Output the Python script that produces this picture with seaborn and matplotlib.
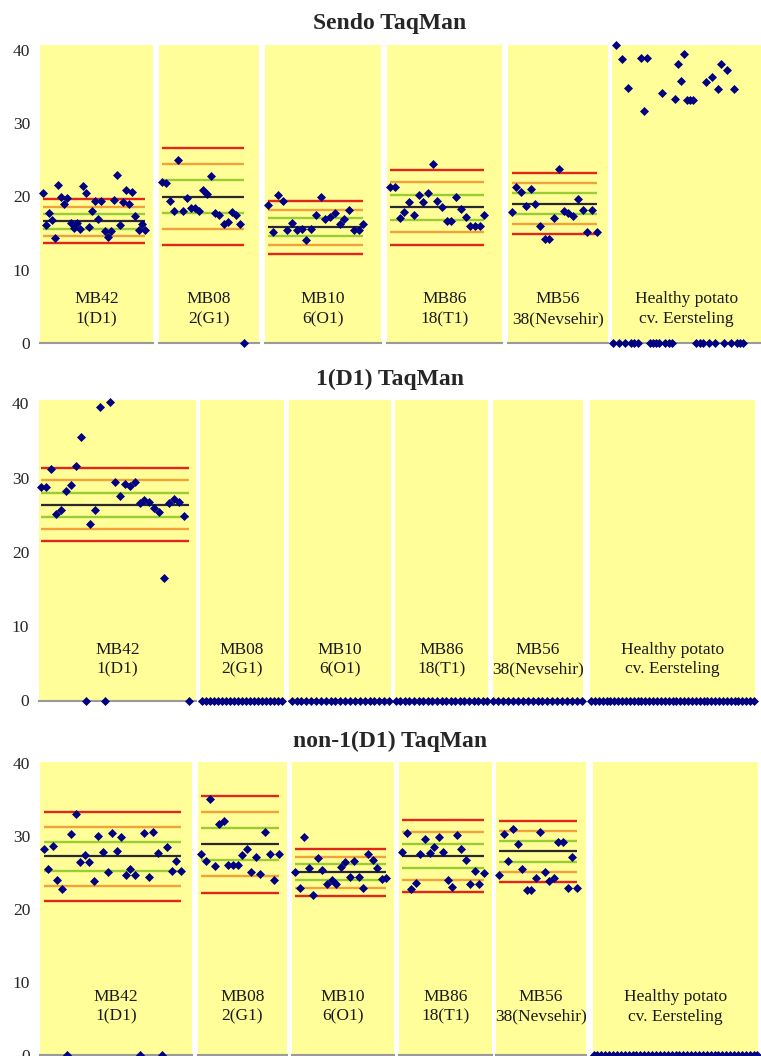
import numpy as np
import pandas as pd
import matplotlib
matplotlib.use('Agg')
import matplotlib.pyplot as plt
import matplotlib.transforms as mtransforms
import seaborn as sns

sns.set_style("white")
plt.rcParams['font.family'] = ['Liberation Serif', 'DejaVu Serif']

# ---- data (Ct values) ----
group_labels = ['MB42\n1(D1)', 'MB08\n2(G1)', 'MB10\n6(O1)', 'MB86\n18(T1)',
                'MB56\n38(Nevsehir)', 'Healthy potato\ncv. Eersteling']
panel_titles = ['Sendo TaqMan', '1(D1) TaqMan', 'non-1(D1) TaqMan']
y_ticks = [0, 10, 20, 30, 40]

# Sendo TaqMan
sendo_mb42 = [20.46, 16.05, 17.69, 16.73, 14.37, 21.51, 19.96, 18.92, 19.83, 16.33,
              15.64, 16.33, 15.51, 21.42, 20.51, 15.78, 18.01, 19.42, 16.96, 19.42,
              15.33, 14.46, 15.33, 19.55, 22.97, 16.05, 19.19, 20.92, 18.96, 20.55,
              17.28, 15.42, 16.28, 15.42]
sendo_mb08 = [21.96, 21.78, 19.37, 17.96, 24.97, 18.01, 19.74, 18.46, 18.46, 18.01,
              20.83, 20.28, 22.83, 17.69, 17.42, 16.19, 16.51, 17.87, 17.42, 16.19, 0]
sendo_mb10 = [18.83, 15.14, 20.19, 19.42, 15.37, 16.33, 15.37, 15.60, 14.05, 15.55,
              17.51, 19.87, 16.96, 17.14, 17.74, 16.28, 16.96, 18.19, 15.37, 15.37, 16.28]
sendo_mb86 = [21.24, 21.24, 17.05, 17.83, 19.28, 17.42, 20.24, 19.19, 20.42, 24.42,
              19.37, 18.55, 16.64, 16.64, 19.92, 18.28, 17.19, 16.01, 16.01, 16.01, 17.51]
sendo_mb56 = [17.83, 21.33, 20.55, 18.69, 21.01, 18.92, 15.92, 14.14, 14.14, 17.05,
              23.69, 18.05, 17.78, 17.28, 19.69, 18.19, 15.10, 18.19, 15.10]
sendo_healthy = [0, 40.65, 0, 38.7, 0, 34.74, 0, 0, 0, 38.83,
                 31.7, 38.83, 0, 0, 0, 0, 34.1, 0, 0, 0,
                 33.3, 38.0, 35.7, 39.38, 33.2, 33.2, 33.2, 0, 0, 0,
                 35.56, 0, 36.3, 0, 34.7, 38.1, 0, 37.3, 0, 34.65,
                 0, 0, 0]
sendo_centre = [16.6, 19.98, 15.78, 18.51, 19.03]
sendo_sd = [1.0, 2.22, 1.21, 1.70, 1.37]

# 1(D1) TaqMan
d1_mb42 = [28.69, 28.69, 31.16, 25.14, 25.60, 28.24, 29.05, 31.52, 35.50, 0,
           23.71, 25.64, 39.46, 0, 40.17, 29.36, 27.48, 29.18, 28.83, 29.41,
           26.54, 27.03, 26.67, 25.95, 25.41, 16.44, 26.54, 27.08, 26.72, 24.79, 0]
d1_mb08 = [0, 0, 0, 0, 0, 0, 0, 0, 0, 0, 0, 0, 0, 0, 0, 0, 0, 0, 0, 0, 0]
d1_mb10 = [0, 0, 0, 0, 0, 0, 0, 0, 0, 0, 0, 0, 0, 0, 0, 0, 0, 0, 0, 0, 0]
d1_mb86 = [0, 0, 0, 0, 0, 0, 0, 0, 0, 0, 0, 0, 0, 0, 0, 0, 0, 0, 0, 0, 0]
d1_mb56 = [0, 0, 0, 0, 0, 0, 0, 0, 0, 0, 0, 0, 0, 0, 0, 0, 0, 0, 0]
d1_healthy = [0, 0, 0, 0, 0, 0, 0, 0, 0, 0, 0, 0, 0, 0, 0, 0, 0, 0, 0, 0, 0, 0,
              0, 0, 0, 0, 0, 0, 0, 0, 0, 0, 0, 0, 0, 0, 0, 0, 0, 0, 0, 0, 0]
d1_centre = [26.33]
d1_sd = [1.64]

# non-1(D1) TaqMan
non_mb42 = [28.22, 25.53, 28.58, 24.02, 22.79, 0, 30.32, 33.06, 26.48, 27.44,
            26.48, 23.84, 30.00, 27.85, 25.02, 30.41, 27.95, 29.90, 24.66, 25.53,
            24.66, 0, 30.45, 24.43, 30.50, 27.63, 0, 28.49, 25.16, 26.53, 25.16]
non_mb08 = [27.53, 26.58, 35.07, 25.89, 31.69, 32.01, 25.98, 26.03, 25.98, 27.35,
            28.26, 25.07, 27.12, 24.75, 30.50, 27.53, 24.02, 27.49]
non_mb10 = [25.02, 22.83, 29.90, 25.57, 21.92, 26.99, 25.39, 23.38, 23.97, 23.38,
            25.75, 26.39, 24.34, 26.58, 24.34, 22.83, 27.49, 26.71, 25.62, 24.06, 24.29]
non_mb86 = [27.76, 30.45, 22.79, 23.60, 27.53, 29.63, 27.72, 28.45, 29.82, 27.85,
            23.97, 23.01, 30.09, 28.26, 26.71, 23.38, 25.25, 23.38, 24.89]
non_mb56 = [24.70, 30.23, 26.53, 31.00, 28.86, 25.48, 22.60, 22.60, 24.29, 30.50,
            25.07, 23.88, 24.29, 29.18, 29.18, 22.92, 27.08, 22.92]
non_healthy = [0, 0, 0, 0, 0, 0, 0, 0, 0, 0, 0, 0, 0, 0, 0, 0, 0, 0, 0, 0, 0, 0,
               0, 0, 0, 0, 0, 0, 0, 0, 0, 0, 0, 0, 0, 0, 0, 0, 0, 0, 0, 0, 0]
non_centre = [27.20, 28.89, 25.02, 27.26, 27.88]
non_sd = [2.02, 2.215, 1.08, 1.66, 1.39]

panel_values = [
    [sendo_mb42, sendo_mb08, sendo_mb10, sendo_mb86, sendo_mb56, sendo_healthy],
    [d1_mb42, d1_mb08, d1_mb10, d1_mb86, d1_mb56, d1_healthy],
    [non_mb42, non_mb08, non_mb10, non_mb86, non_mb56, non_healthy],
]
panel_centre = [sendo_centre, d1_centre, non_centre]
panel_sd = [sendo_sd, d1_sd, non_sd]

# ---- layout in pixels ----
W, H = 761, 1056
# (pixel of y=0, pixels per Ct unit, top of block, title baseline, label y)
panel_geom = [(343, 7.33, 45, 28.5, 4.6),
              (700.5, 7.43, 400, 385, 5.5),
              (1055, 7.30, 762, 746.5, 6.6)]
# per block: left, right, first point x, last point x
block_geom = [
    [(40, 153, 42.7, 144.7), (159, 259, 162, 244), (265, 381, 268.3, 363.3),
     (387, 502, 390.3, 484.3), (508, 608, 511.7, 596.7), (612, 761, 612.7, 743)],
    [(39, 196, 41.3, 188.7), (200, 284, 201.7, 281.7), (289, 391, 291.7, 389),
     (395, 488, 395.7, 487.3), (493, 583, 493.3, 581.7), (590, 755, 591, 754)],
    [(40, 192, 43.7, 180.7), (198, 287, 201, 278.7), (292, 394, 295, 386.3),
     (399, 492, 402.3, 484), (496, 586, 499.3, 576.7), (593, 758, 593.5, 757.5)],
]

yellow = '#FFFE99'
navy = '#000080'
band_colors = [('#E3261B', 3), ('#F2A23A', 2), ('#9ACD32', 1)]

fig = plt.figure(figsize=(W / 100, H / 100), dpi=100)

for p in range(3):
    y0, ppu, top, title_y, label_y = panel_geom[p]
    fig.text(390 / W, 1 - title_y / H, panel_titles[p], ha='center', va='baseline',
             fontsize=17, fontweight='bold')
    for g in range(6):
        L, R, xf, xl = block_geom[p][g]
        vals = panel_values[p][g]
        n = len(vals)
        d = (xl - xf) / (n - 1)
        ax = fig.add_axes([L / W, 1 - y0 / H, (R - L) / W, (y0 - top) / H])
        ax.set_facecolor(yellow)
        ax.set_xlim((L - xf) / d, (R - xf) / d)
        ax.set_ylim(0, (y0 - top) / ppu)

        if g < len(panel_centre[p]):
            c, s = panel_centre[p][g], panel_sd[p][g]
            for col, k in band_colors:
                ax.hlines([c - k * s, c + k * s], 0, n - 1, color=col, lw=1.7, zorder=2)
            ax.hlines(c, 0, n - 1, color='#2a2a2a', lw=1.6, zorder=2)

        df = pd.DataFrame({'sample': np.arange(n), 'ct': vals})
        sns.scatterplot(data=df, x='sample', y='ct', ax=ax, marker='D', s=21,
                        color=navy, linewidth=0, clip_on=False, zorder=5, legend=False)

        trans = mtransforms.blended_transform_factory(ax.transAxes, ax.transData)
        ax.text(0.5, label_y, group_labels[g], transform=trans, ha='center', va='center',
                fontsize=12.5, linespacing=1.3, color='#1a1a1a')

        for side in ['top', 'left', 'right']:
            ax.spines[side].set_visible(False)
        ax.spines['bottom'].set_color('#9a9a9a')
        ax.spines['bottom'].set_linewidth(1.5)
        ax.set_xticks([])
        ax.set_xlabel('')
        ax.set_ylabel('')
        if g == 0:
            ax.set_yticks(y_ticks)
            ax.set_yticklabels([str(t) for t in y_ticks], fontsize=12.5)
            ax.tick_params(axis='y', length=0, pad=7)
        else:
            ax.set_yticks([])

fig.savefig('out.png', dpi=100)
